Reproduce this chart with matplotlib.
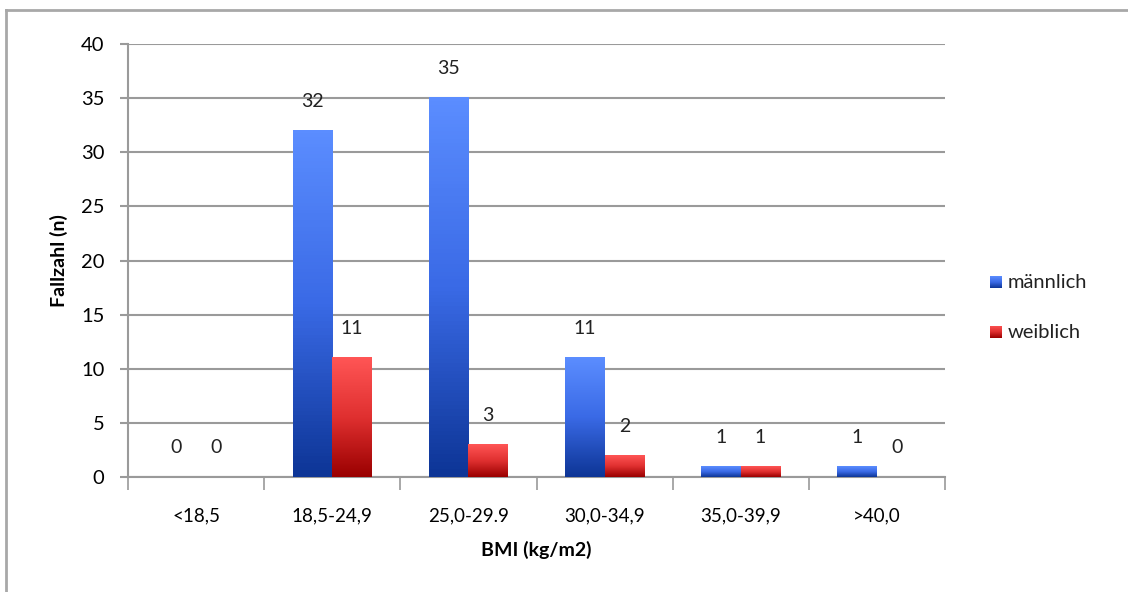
import numpy as np
import matplotlib.pyplot as plt
from matplotlib.colors import LinearSegmentedColormap
from matplotlib.lines import Line2D

plt.rcParams['font.family'] = ['Lato', 'DejaVu Sans']

categories = ['<18,5', '18,5-24,9', '25,0-29.9', '30,0-34,9', '35,0-39,9', '>40,0']
maennlich = [0, 32, 35, 11, 1, 1]
weiblich = [0, 11, 3, 2, 1, 0]

blue_cmap = LinearSegmentedColormap.from_list('blau', ['#0d3596', '#3a6ae6', '#5b8dff'])
red_cmap = LinearSegmentedColormap.from_list('rot', ['#9a0000', '#e03030', '#ff5555'])

fig = plt.figure(figsize=(11.28, 5.92), dpi=100)
ax = fig.add_axes([0.1135, 0.194, 0.7243, 0.7317])

x = np.arange(len(categories))
w = 0.29
grad = np.linspace(0, 1, 100).reshape(-1, 1)

def gradient_bars(xs, vals, cmap):
    for xi, v in zip(xs, vals):
        if v <= 0:
            continue
        ax.imshow(grad, cmap=cmap, origin='lower', aspect='auto',
                  extent=[xi - w / 2, xi + w / 2, 0, v], zorder=3)

gradient_bars(x - w / 2, maennlich, blue_cmap)
gradient_bars(x + w / 2, weiblich, red_cmap)

# value labels above every bar
for xi, v in zip(x - w / 2, maennlich):
    ax.annotate(str(v), (xi, v), xytext=(0, 21), textcoords='offset points',
                ha='center', va='center', fontsize=14, color='#222222')
for xi, v in zip(x + w / 2, weiblich):
    ax.annotate(str(v), (xi, v), xytext=(0, 21), textcoords='offset points',
                ha='center', va='center', fontsize=14, color='#222222')

ax.set_xlim(-0.5, len(categories) - 0.5)
ax.set_ylim(0, 40)
ax.set_yticks(range(0, 41, 5))
ax.yaxis.grid(True, color='#9a9a9a', linewidth=1.5, zorder=0)
ax.set_axisbelow(True)

ax.set_xticks(x)
ax.set_xticklabels(categories)
ax.set_xticks(np.arange(-0.5, len(categories)), minor=True)
ax.tick_params(axis='x', which='major', length=0, pad=22, labelsize=13.5)
ax.tick_params(axis='x', which='minor', length=9, width=1.2, color='#9a9a9a')
ax.tick_params(axis='y', length=6, width=1.5, color='#9a9a9a', pad=11, labelsize=14.5)

for s in ['top', 'right']:
    ax.spines[s].set_visible(False)
for s in ['left', 'bottom']:
    ax.spines[s].set_color('#9a9a9a')
    ax.spines[s].set_linewidth(1.5)

ax.set_xlabel('BMI (kg/m2)', fontsize=14, fontweight='bold', labelpad=12)
ax.set_ylabel('Fallzahl (n)', fontsize=14, fontweight='bold', labelpad=9)

# legend with gradient squares
for i, (lab, cmap) in enumerate([('männlich', blue_cmap), ('weiblich', red_cmap)]):
    yb = 1 - (282 + i * 50) / 592
    lax = fig.add_axes([990 / 1128, yb - 6 / 592, 12 / 1128, 12 / 592])
    lax.imshow(grad, cmap=cmap, origin='lower', aspect='auto', extent=[0, 1, 0, 1])
    lax.axis('off')
    fig.text(1008 / 1128, yb, lab, fontsize=14.5, va='center', ha='left', color='#222222')

# outer frame
fig.add_artist(Line2D([6 / 1128, 6 / 1128], [0, 1 - 10 / 592], transform=fig.transFigure,
                      color='#a8a8a8', linewidth=2))
fig.add_artist(Line2D([6 / 1128, 1], [1 - 10 / 592, 1 - 10 / 592], transform=fig.transFigure,
                      color='#a8a8a8', linewidth=2))

fig.savefig('out.png', dpi=100)
